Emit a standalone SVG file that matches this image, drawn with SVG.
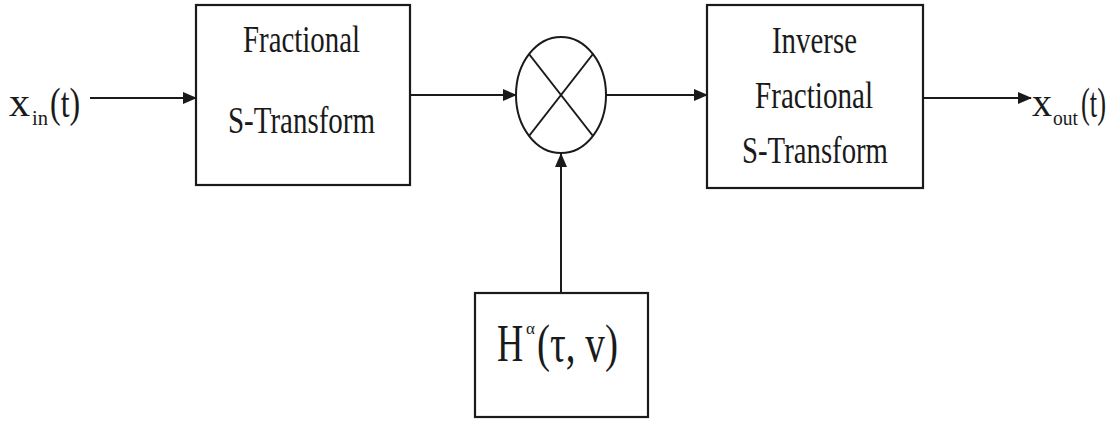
<svg xmlns="http://www.w3.org/2000/svg" width="1116" height="423" viewBox="0 0 1116 423">
<style>
.box{fill:#fff;stroke:#1a1a1a;stroke-width:2.2}
.ln{fill:none;stroke:#1a1a1a;stroke-width:2}
.t{font-family:"Liberation Serif","Times New Roman",serif;fill:#1a1a1a}
.bt{font-size:38px}
</style>
<defs>
<marker id="ah" markerWidth="14" markerHeight="12" refX="13" refY="6" orient="auto" markerUnits="userSpaceOnUse">
<path d="M0,0 L14,6 L0,12 Z" fill="#1a1a1a"/>
</marker>
</defs>
<rect width="1116" height="423" fill="#fff"/>
<g id="connectors">
<line class="ln" x1="90" y1="98" x2="196" y2="98" marker-end="url(#ah)"/>
<line class="ln" x1="410" y1="95" x2="516" y2="95" marker-end="url(#ah)"/>
<line class="ln" x1="606" y1="95" x2="707" y2="95" marker-end="url(#ah)"/>
<line class="ln" x1="923" y1="98" x2="1031" y2="98" marker-end="url(#ah)"/>
<line class="ln" x1="561" y1="293" x2="561" y2="154" marker-end="url(#ah)"/>
</g>
<g id="input">
<text class="t" x="9" y="116" font-size="40" textLength="21" lengthAdjust="spacingAndGlyphs">x</text>
<text class="t" x="32" y="125" font-size="22" textLength="16" lengthAdjust="spacingAndGlyphs">in</text>
<text class="t" transform="translate(50,117) scale(0.76,1)" font-size="42">(t)</text>
</g>
<g id="fst">
<rect class="box" x="196" y="5" width="214" height="180"/>
<text class="t bt" x="243" y="52" textLength="117" lengthAdjust="spacingAndGlyphs">Fractional</text>
<text class="t bt" x="228" y="133" textLength="147" lengthAdjust="spacingAndGlyphs">S-Transform</text>
</g>
<g id="multiplier">
<ellipse class="ln" cx="561" cy="95" rx="45" ry="58"/>
<line class="ln" x1="529" y1="54" x2="593" y2="136"/>
<line class="ln" x1="593" y1="54" x2="529" y2="136"/>
</g>
<g id="ifst">
<rect class="box" x="707" y="5" width="216" height="183"/>
<text class="t bt" x="772" y="53" textLength="85" lengthAdjust="spacingAndGlyphs">Inverse</text>
<text class="t bt" x="755" y="108" textLength="118" lengthAdjust="spacingAndGlyphs">Fractional</text>
<text class="t bt" x="742" y="163" textLength="146" lengthAdjust="spacingAndGlyphs">S-Transform</text>
</g>
<g id="filter">
<rect class="box" x="475" y="293" width="173" height="124"/>
<text class="t" transform="translate(497,361) scale(0.7,1)" font-size="52">H</text>
<text class="t" x="526" y="334" font-size="17">α</text>
<text class="t" x="537" y="361" font-size="52" textLength="81" lengthAdjust="spacingAndGlyphs">(τ, v)</text>
</g>
<g id="output">
<text class="t" x="1032" y="116" font-size="40" textLength="20" lengthAdjust="spacingAndGlyphs">x</text>
<text class="t" x="1053" y="125" font-size="22" textLength="25" lengthAdjust="spacingAndGlyphs">out</text>
<text class="t" transform="translate(1081,117) scale(0.63,1)" font-size="42">(t)</text>
</g>
</svg>
